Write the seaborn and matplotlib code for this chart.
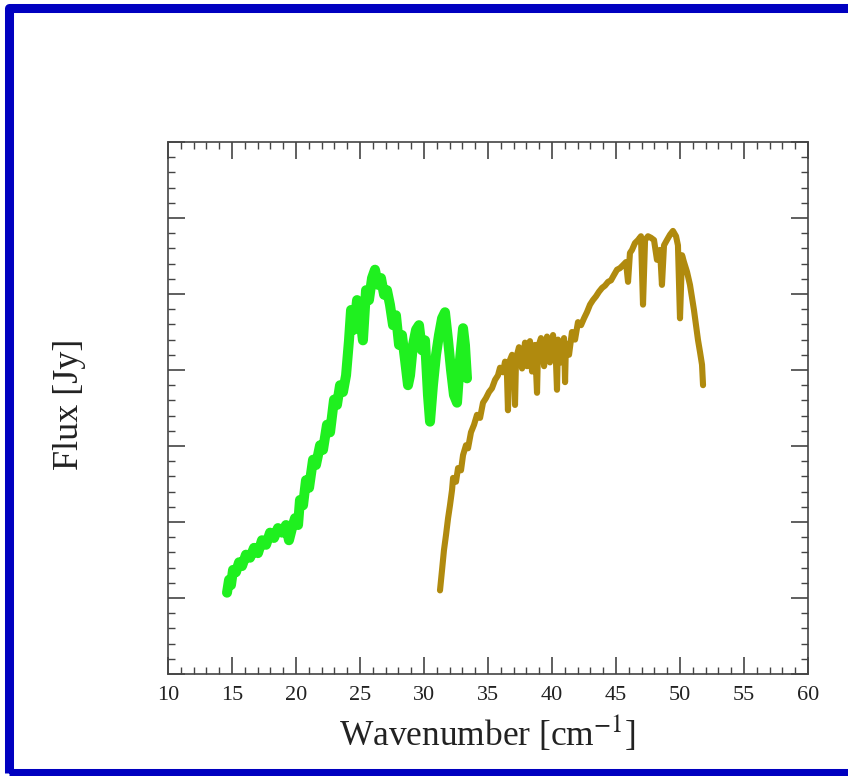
import matplotlib
matplotlib.use("Agg")
import matplotlib.pyplot as plt
from matplotlib.patches import Rectangle
from matplotlib.ticker import MultipleLocator, NullFormatter
import seaborn as sns
import pandas as pd

# ---- data ----
green_x = [14.61, 14.77, 14.92, 15.08, 15.31, 15.55, 15.78, 16.09, 16.41, 16.72,
           17.03, 17.34, 17.66, 17.97, 18.28, 18.59, 18.91, 19.22, 19.45, 19.69,
           19.92, 20.16, 20.31, 20.55, 20.78, 21.02, 21.33, 21.56, 21.88, 22.11,
           22.42, 22.66, 22.97, 23.20, 23.44, 23.67, 23.91, 24.14, 24.30, 24.53,
           24.77, 25.00, 25.23, 25.47, 25.70, 25.94, 26.17, 26.41, 26.64, 26.88,
           27.11, 27.34, 27.58, 27.81, 28.05, 28.28, 28.52, 28.75, 28.91, 29.14,
           29.38, 29.61, 29.84, 30.08, 30.31, 30.47, 30.70, 30.94, 31.17, 31.41,
           31.64, 31.88, 32.11, 32.34, 32.58, 32.81, 33.05, 33.20, 33.36]
green_y = [1.07, 1.24, 1.17, 1.37, 1.34, 1.47, 1.42, 1.57, 1.53, 1.66,
           1.59, 1.76, 1.70, 1.86, 1.79, 1.92, 1.86, 1.96, 1.76, 1.92,
           2.05, 1.96, 2.29, 2.22, 2.55, 2.45, 2.82, 2.75, 3.01, 2.95,
           3.28, 3.18, 3.61, 3.54, 3.80, 3.71, 3.93, 4.39, 4.79, 4.53,
           4.92, 4.72, 4.39, 5.05, 4.92, 5.21, 5.32, 5.12, 5.21, 4.99,
           5.05, 4.86, 4.59, 4.72, 4.33, 4.46, 4.13, 3.80, 3.93, 4.33,
           4.53, 4.59, 4.26, 4.39, 3.67, 3.32, 3.80, 4.20, 4.46, 4.68,
           4.76, 4.39, 4.00, 3.67, 3.57, 4.13, 4.55, 4.33, 3.89]

brown_x = [31.25, 31.41, 31.56, 31.72, 31.88, 32.03, 32.19, 32.27, 32.50, 32.66,
           32.89, 33.05, 33.28, 33.44, 33.67, 33.91, 34.14, 34.38, 34.61, 34.84,
           35.08, 35.31, 35.55, 35.78, 35.94, 36.17, 36.33, 36.48, 36.56, 36.64,
           36.88, 37.03, 37.11, 37.19, 37.42, 37.66, 37.89, 38.05, 38.28, 38.44,
           38.67, 38.83, 38.91, 39.14, 39.38, 39.61, 39.84, 40.08, 40.31, 40.39,
           40.47, 40.70, 40.94, 41.02, 41.09, 41.33, 41.56, 41.80, 42.03, 42.27,
           42.50, 42.73, 42.97, 43.20, 43.44, 43.67, 43.91, 44.14, 44.38, 44.61,
           44.84, 45.08, 45.31, 45.55, 45.78, 45.94, 46.09, 46.25, 46.48, 46.72,
           46.95, 47.11, 47.27, 47.50, 47.73, 47.97, 48.20, 48.44, 48.59, 48.75,
           48.98, 49.22, 49.45, 49.69, 49.84, 50.00, 50.16, 50.31, 50.55, 50.78,
           50.94, 51.09, 51.25, 51.41, 51.56, 51.72, 51.80]
brown_y = [1.10, 1.37, 1.63, 1.83, 2.05, 2.22, 2.42, 2.58, 2.53, 2.71,
           2.68, 2.88, 3.01, 2.97, 3.18, 3.28, 3.41, 3.37, 3.57, 3.63,
           3.71, 3.76, 3.87, 3.93, 4.03, 3.97, 4.11, 3.95, 3.47, 4.10,
           4.20, 3.98, 3.54, 4.15, 4.30, 4.02, 4.36, 4.05, 4.38, 3.98,
           4.33, 3.70, 4.30, 4.42, 4.05, 4.44, 4.10, 4.46, 4.12, 3.74,
           4.40, 4.10, 4.42, 3.84, 4.35, 4.20, 4.50, 4.40, 4.63, 4.59,
           4.68, 4.76, 4.86, 4.92, 4.97, 5.03, 5.08, 5.11, 5.16, 5.18,
           5.25, 5.32, 5.34, 5.38, 5.42, 5.16, 5.54, 5.58, 5.67, 5.71,
           5.76, 4.86, 5.71, 5.76, 5.74, 5.71, 5.45, 5.58, 5.12, 5.64,
           5.71, 5.78, 5.83, 5.76, 5.64, 4.68, 5.51, 5.42, 5.29, 5.12,
           4.95, 4.79, 4.59, 4.39, 4.24, 4.07, 3.80]

x_ticks_major = [10, 15, 20, 25, 30, 35, 40, 45, 50, 55, 60]
x_label = "Wavenumber [cm$^{-1}$]"
y_label = "Flux [Jy]"

green_color = "#1ff01f"
brown_color = "#b08a0e"

# ---- figure ----
sns.set_theme(style="ticks")
plt.rcParams["font.family"] = ["Liberation Serif", "DejaVu Serif"]
plt.rcParams["mathtext.fontset"] = "stix"

fig = plt.figure(figsize=(8.48, 7.76), dpi=100)
fig.patch.set_facecolor("white")
ax = fig.add_axes([168 / 848, 1 - 674 / 776, 640 / 848, 532 / 776])
ax.set_facecolor("white")

gdf = pd.DataFrame({"x": green_x, "y": green_y})
bdf = pd.DataFrame({"x": brown_x, "y": brown_y})
sns.lineplot(data=gdf, x="x", y="y", sort=False, estimator=None, color=green_color,
             linewidth=7.2, solid_joinstyle="round", solid_capstyle="round", ax=ax)
sns.lineplot(data=bdf, x="x", y="y", sort=False, estimator=None, color=brown_color,
             linewidth=4.4, solid_joinstyle="round", solid_capstyle="round", ax=ax)

ax.set_xlim(10, 60)
ax.set_ylim(0, 7)
ax.set_xticks(x_ticks_major)
ax.set_xticklabels([str(t) for t in x_ticks_major])
ax.xaxis.set_minor_locator(MultipleLocator(1))
ax.yaxis.set_major_locator(MultipleLocator(1))
ax.yaxis.set_minor_locator(MultipleLocator(0.2))
ax.yaxis.set_major_formatter(NullFormatter())

for s in ax.spines.values():
    s.set_visible(True)
    s.set_color("#444444")
    s.set_linewidth(1.2)

ax.tick_params(which="both", direction="in", top=True, right=True, left=True, bottom=True,
               color="#444444")
ax.tick_params(which="major", length=12, width=1.2, labelsize=16, pad=9,
               labelcolor="#222222")
ax.tick_params(which="minor", length=5, width=1.0)

ax.set_xlabel(x_label, fontsize=25.5, color="#222222")
ax.set_ylabel(y_label, fontsize=26, color="#222222")
ax.xaxis.set_label_coords(0.5, -0.075)
ax.yaxis.set_label_coords(-0.128, 0.506)

# blue frame around the figure
frame = Rectangle((9 / 848, 3 / 776), (850 - 9) / 848, (765) / 776,
                  transform=fig.transFigure, fill=False, edgecolor="#0000c0",
                  linewidth=6.5, joinstyle="round", clip_on=False)
fig.patches.append(frame)

fig.savefig("out.png", dpi=100, facecolor="white")
